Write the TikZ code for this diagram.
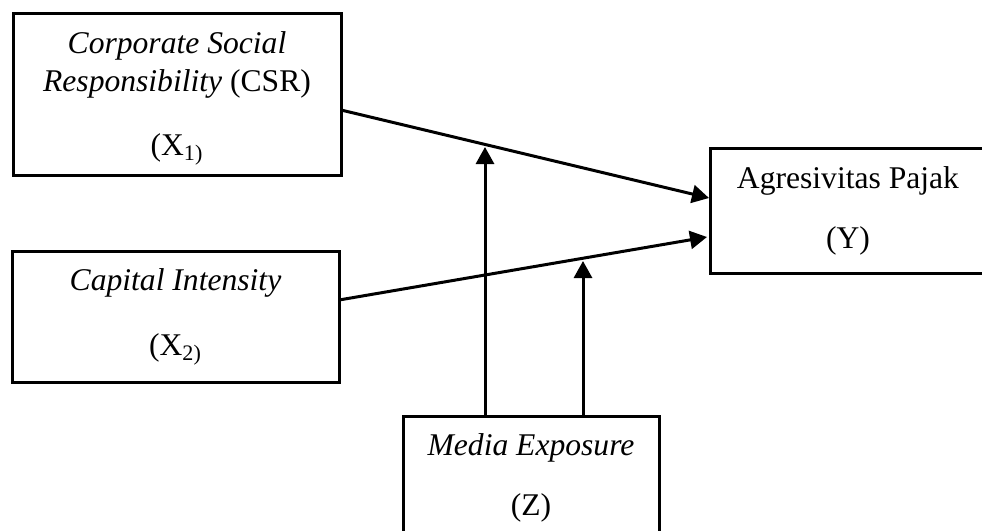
\documentclass[tikz,border=0pt]{standalone}
\usepackage{fontspec}
\setmainfont{Liberation Serif}
\usetikzlibrary{arrows.meta}
\tikzset{
  box/.style={draw, line width=1.5pt, rectangle, inner sep=0pt},
  lbl/.style={anchor=base, inner sep=0pt, font=\fontsize{15.8pt}{19pt}\selectfont},
  arr/.style={line width=1.5pt, -{Triangle[length=8.5pt,width=9pt]}},
}
\begin{document}
\begin{tikzpicture}[x=0.5pt,y=-0.5pt]
\clip (0,0) rectangle (982,531);
\fill[white] (0,0) rectangle (982,531);
% boxes
\node[box, minimum width=164pt, minimum height=81pt] (csr) at (177,94) {};
\node[box, minimum width=163.5pt, minimum height=65.5pt] (ci) at (175.5,316.5) {};
\node[box, minimum width=145pt, minimum height=62.5pt] (y) at (855,210.5) {};
\node[box, minimum width=128pt, minimum height=72pt] (z) at (531,488) {};
% texts
\node[lbl] (t1) at (177,53) {\textit{Corporate Social}};
\node[lbl] (t2) at (177,91) {\textit{Responsibility} (CSR)};
\node[lbl] (t3) at (177,155) {(X\textsubscript{1)}};
\node[lbl] (t4) at (175.5,290) {\textit{Capital Intensity}};
\node[lbl] (t5) at (175.5,355) {(X\textsubscript{2)}};
\node[lbl] (t6) at (848,188) {Agresivitas Pajak};
\node[lbl] (t7) at (848,248) {(Y)};
\node[lbl] (t8) at (531,455) {\textit{Media Exposure}};
\node[lbl] (t9) at (531,515) {(Z)};
% connectors
\coordinate (a1s) at (341,110);
\coordinate (a1e) at (709,198);
\coordinate (a2s) at (339,300);
\coordinate (a2e) at (707,237);
\coordinate (v1s) at (485,416);
\coordinate (v1e) at (485,147);
\coordinate (v2s) at (583,416);
\coordinate (v2e) at (583,261);
\draw[arr] (a1s) -- (a1e);
\draw[arr] (a2s) -- (a2e);
\draw[arr] (v1s) -- (v1e);
\draw[arr] (v2s) -- (v2e);
\end{tikzpicture}
\end{document}
